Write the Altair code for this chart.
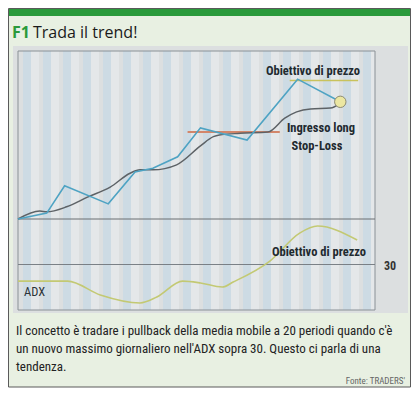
import altair as alt
import pandas as pd

# ---- data ----
price_day = [0, 2.9, 4.7, 9.1, 11.8, 13.6, 16.1, 18.4, 23.1, 28.2, 32.5]
price_val = [100, 101.4, 107.9, 103.6, 111.2, 112.1, 114.8, 121.7, 118.8, 133.3, 127.9]

ma_day = [0, 2.2, 2.9, 4.9, 7.0, 9.3, 11.3, 12.3, 13.6, 16.0, 18.4, 19.7, 20.3, 22.4, 25.2, 26.9, 28.1, 29.5, 31.5, 32.5]
ma_val = [100, 101.9, 101.7, 102.9, 105.2, 107.6, 110.9, 111.7, 111.7, 112.9, 117.4, 119.6, 120.0, 120.4, 120.7, 124.0, 125.5, 126.2, 126.4, 127.6]

stop_day = [17.1, 26.4]
stop_val = [120.7, 120.7]

target_day = [27.4, 34.3]
target_val = [133.0, 133.0]

entry_day = [32.5]
entry_val = [127.9]

adx_day = [0, 5.0, 8.3, 12.3, 14.0, 16.6, 18.4, 20.6, 21.7, 25.4, 28.4, 30.2, 34.2]
adx_val = [22.7, 22.7, 16.6, 13.1, 15.7, 22.7, 21.9, 20.1, 22.3, 31.5, 43.8, 46.9, 40.8]

adx_level = [30]
baseline_price = [100]

title_code = "F1"
title_text = "Trada il trend!"
caption_lines = [
    "Il concetto è tradare i pullback della media mobile a 20 periodi quando c'è",
    "un nuovo massimo giornaliero nell'ADX sopra 30. Questo ci parla di una",
    "tendenza.",
]
source_text = "Fonte: TRADERS'"

# ---- scales ----
xs = alt.Scale(domain=[0, 36], range=[10, 367])
ys_price = alt.Scale(domain=[100, 140], range=[211, 43])
ys_adx = alt.Scale(domain=[10, 50], range=[302, 211])

COND = "Liberation Sans Narrow, Roboto Condensed, DejaVu Sans Condensed, Roboto"

one = alt.Chart(pd.DataFrame({"a": [0]}))

# ---- decorations ----
frame = one.mark_rect(fill="#e8f0e2", stroke="#5a5a5a", strokeWidth=1).encode(
    x=alt.value(0.5), x2=alt.value(402.5), y=alt.value(0.5), y2=alt.value(379))
greenbar = one.mark_rect(fill="#2a9a3b").encode(
    x=alt.value(1), x2=alt.value(402), y=alt.value(1), y2=alt.value(8))
panel = one.mark_rect(fill="#dcdfe0").encode(
    x=alt.value(5), x2=alt.value(400), y=alt.value(38), y2=alt.value(305))

stripes2 = alt.Chart(alt.sequence(0, 18, as_="i")).transform_calculate(
    x0="10 + datum.i * 20 + 12", x1="min(10 + datum.i * 20 + 21, 367)"
).mark_rect(fill="#e4e7e9").encode(
    x=alt.X("x0:Q", scale=None), x2="x1:Q", y=alt.value(43), y2=alt.value(302))
stripes = alt.Chart(alt.sequence(0, 18, as_="i")).transform_calculate(
    x0="10 + datum.i * 20 + 5", x1="10 + datum.i * 20 + 13"
).mark_rect(fill="#cddbe4").encode(
    x=alt.X("x0:Q", scale=None), x2="x1:Q", y=alt.value(43), y2=alt.value(302))

inner = one.mark_rect(fill=None, stroke="#8a9196", strokeWidth=1).encode(
    x=alt.value(10), x2=alt.value(367), y=alt.value(43), y2=alt.value(302))

base_rule = alt.Chart(pd.DataFrame({"p": baseline_price})).mark_rule(
    color="#6a6f73", strokeWidth=1).encode(
    y=alt.Y("p:Q", scale=ys_price, axis=None), x=alt.value(10), x2=alt.value(367))

# ---- price panel ----
price_df = pd.DataFrame({"d": price_day, "v": price_val})
ma_df = pd.DataFrame({"d": ma_day, "v": ma_val})
stop_df = pd.DataFrame({"d": stop_day, "v": stop_val})
target_df = pd.DataFrame({"d": target_day, "v": target_val})
entry_df = pd.DataFrame({"d": entry_day, "v": entry_val})

X = alt.X("d:Q", scale=xs, axis=None)
Yp = alt.Y("v:Q", scale=ys_price, axis=None)

stop_line = alt.Chart(stop_df).mark_line(color="#d3866a", strokeWidth=2).encode(x=X, y=Yp)
target_line = alt.Chart(target_df).mark_line(color="#c9c25c", strokeWidth=1.5).encode(x=X, y=Yp)
ma_line = alt.Chart(ma_df).mark_line(color="#5d6266", strokeWidth=1.5, interpolate="monotone").encode(x=X, y=Yp)
price_line = alt.Chart(price_df).mark_line(color="#4ea3c3", strokeWidth=1.6).encode(x=X, y=Yp)
entry_pt = alt.Chart(entry_df).mark_point(
    filled=True, fill="#ece7a2", stroke="#8c8b72", strokeWidth=1, size=130, opacity=1
).encode(x=X, y=Yp)

# ---- ADX panel ----
adx_df = pd.DataFrame({"d": adx_day, "v": adx_val})
Ya = alt.Y("v:Q", scale=ys_adx, axis=None)
adx_rule = alt.Chart(pd.DataFrame({"v": adx_level})).mark_rule(
    color="#7a8086", strokeWidth=1).encode(y=Ya, x=alt.value(10), x2=alt.value(367))
adx_line = alt.Chart(adx_df).mark_line(color="#c3c973", strokeWidth=1.6, interpolate="monotone").encode(x=X, y=Ya)

# ---- texts ----
def label(txt, x, y, size=12.5, weight="bold", align="center", color="#1f2a30", font=COND):
    return one.mark_text(text=txt, fontSize=size, fontWeight=weight, align=align,
                         baseline="middle", color=color, font=font).encode(
        x=alt.value(x), y=alt.value(y))

labels = [
    label("Obiettivo di prezzo", 305, 63),
    label("Ingresso long", 313, 120),
    label("Stop-Loss", 309, 138),
    label("Obiettivo di prezzo", 311, 244),
    label("ADX", 16, 284, align="left", weight="normal", size=12.5, color="#2a3338"),
    label("30", 382, 258, weight="bold", size=12, color="#333"),
    label(title_code, 4, 25, size=16, weight="bold", align="left", color="#2a9a3b", font="Open Sans"),
    label(title_text, 25, 25, size=16, weight="normal", align="left", color="#1a1a1a", font="Open Sans"),
    label(caption_lines[0], 8, 323, size=13, weight="normal", align="left", color="#222"),
    label(caption_lines[1], 8, 341, size=13, weight="normal", align="left", color="#222"),
    label(caption_lines[2], 8, 359, size=13, weight="normal", align="left", color="#222"),
    label(source_text, 397, 373, size=9, weight="normal", align="right", color="#666"),
]

chart = alt.layer(
    frame, greenbar, panel, stripes2, stripes, inner,
    base_rule, adx_rule,
    stop_line, target_line, ma_line, price_line, entry_pt, adx_line,
    *labels
).resolve_scale(y="independent").properties(
    width=403, height=381, padding=0, autosize=alt.AutoSizeParams(type="none"),
    background="white"
).configure_view(stroke=None)

chart.save("out.html", embed_options={"renderer": "svg", "actions": False})
